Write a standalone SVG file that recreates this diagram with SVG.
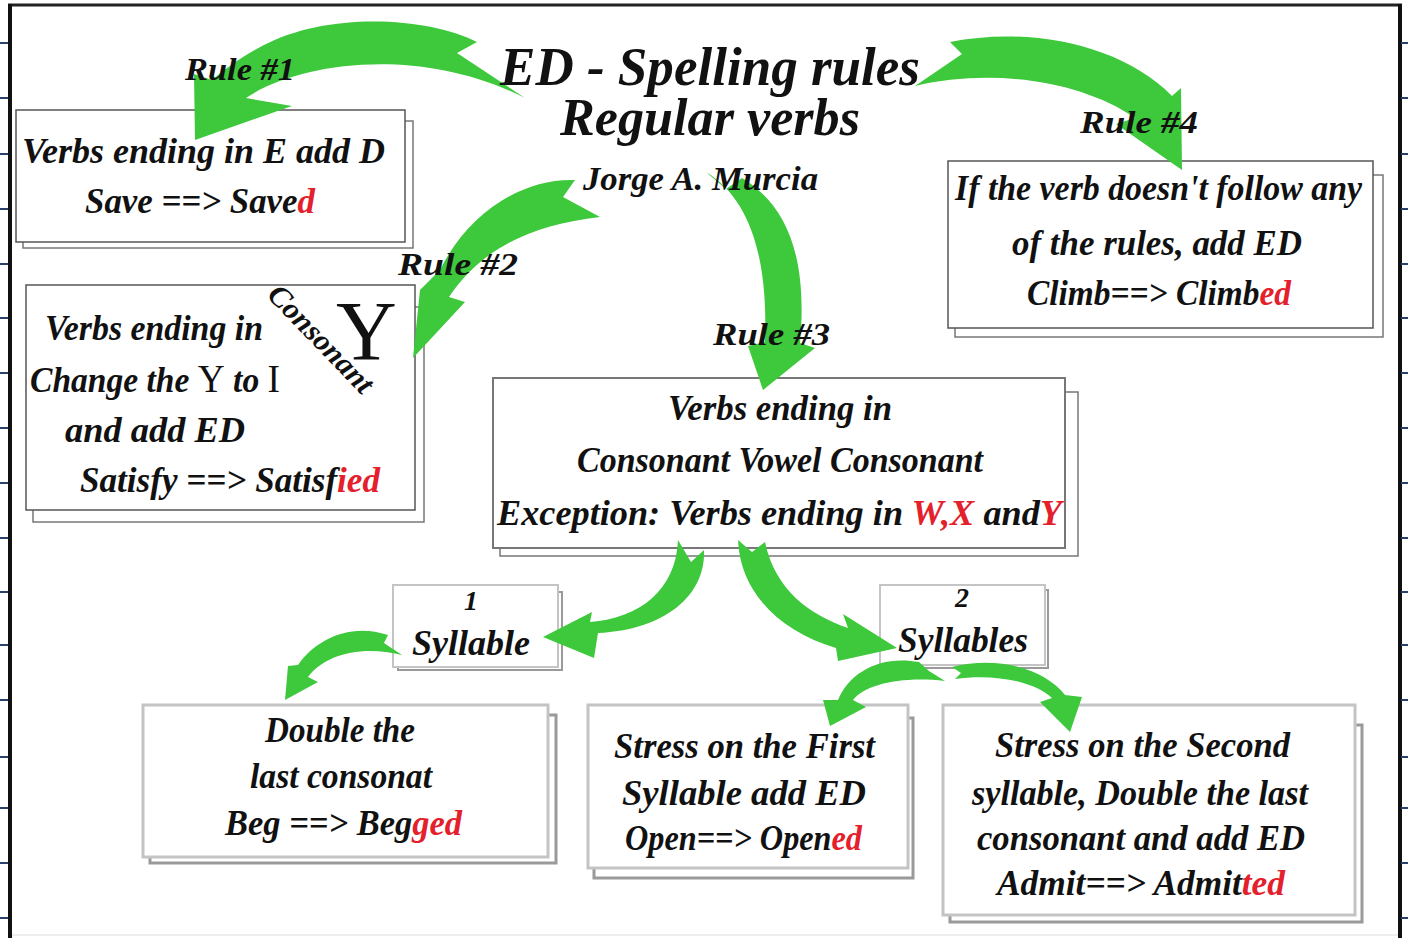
<svg xmlns="http://www.w3.org/2000/svg" width="1408" height="938" viewBox="0 0 1408 938">
<style>
.t{font-family:"Liberation Serif",serif;font-style:italic;font-weight:bold;fill:#111;font-size:36px}
.lbl{font-size:32px}
.r{fill:#e3202b}
.up{font-style:normal;font-weight:normal}
.bf{fill:#fff;stroke:#555;stroke-width:1.5}
.bs{fill:#fff;stroke:#777;stroke-width:1.5}
.lf{fill:#fff;stroke:#c4c4c4;stroke-width:3}
.ls{fill:#fff;stroke:#9a9a9a;stroke-width:3}
.arr{fill:#3ec83c;stroke:none}
.tick{stroke:#2a3f6a;stroke-width:2}
</style>
<defs>
<path id="tk" d="M0,0 H8" class="tick"/>
</defs>
<rect width="1408" height="938" fill="#fff"/>
<g id="frame">
<line x1="8" y1="5" x2="1402" y2="5" stroke="#222" stroke-width="3"/>
<line x1="10" y1="4" x2="10" y2="938" stroke="#111" stroke-width="4"/>
<line x1="1400" y1="4" x2="1400" y2="938" stroke="#111" stroke-width="4"/>
<line x1="12" y1="935" x2="1398" y2="935" stroke="#ddd" stroke-width="1"/>
<g>
<use href="#tk" x="0" y="43"/><use href="#tk" x="0" y="98"/><use href="#tk" x="0" y="154"/><use href="#tk" x="0" y="209"/><use href="#tk" x="0" y="264"/><use href="#tk" x="0" y="318"/><use href="#tk" x="0" y="373"/><use href="#tk" x="0" y="428"/><use href="#tk" x="0" y="483"/><use href="#tk" x="0" y="538"/><use href="#tk" x="0" y="592"/><use href="#tk" x="0" y="645"/><use href="#tk" x="0" y="700"/><use href="#tk" x="0" y="757"/><use href="#tk" x="0" y="808"/><use href="#tk" x="0" y="863"/><use href="#tk" x="0" y="918"/>
<use href="#tk" x="1401" y="43"/><use href="#tk" x="1401" y="98"/><use href="#tk" x="1401" y="154"/><use href="#tk" x="1401" y="209"/><use href="#tk" x="1401" y="264"/><use href="#tk" x="1401" y="318"/><use href="#tk" x="1401" y="373"/><use href="#tk" x="1401" y="428"/><use href="#tk" x="1401" y="483"/><use href="#tk" x="1401" y="538"/><use href="#tk" x="1401" y="592"/><use href="#tk" x="1401" y="645"/><use href="#tk" x="1401" y="700"/><use href="#tk" x="1401" y="757"/><use href="#tk" x="1401" y="808"/><use href="#tk" x="1401" y="863"/><use href="#tk" x="1401" y="918"/>
</g>
</g>

<g id="rule1-box">
<rect class="bs" x="23" y="121" width="390" height="127"/>
<rect class="bf" x="16" y="110" width="389" height="132"/>
<text class="t" x="22" y="163" textLength="363" lengthAdjust="spacingAndGlyphs">Verbs ending in E add D</text>
<text class="t" x="85" y="213" textLength="230" lengthAdjust="spacingAndGlyphs">Save ==&gt; Save<tspan class="r">d</tspan></text>
</g>

<g id="rule2-box">
<rect class="bs" x="33" y="307" width="391" height="215"/>
<rect class="bf" x="26" y="285" width="389" height="225"/>
<text class="t" x="45" y="340" textLength="218" lengthAdjust="spacingAndGlyphs">Verbs ending in</text>
<text class="t" x="30" y="392" textLength="250" lengthAdjust="spacingAndGlyphs">Change the <tspan class="up" style="font-size:40px">Y</tspan> to <tspan class="up" style="font-size:40px">I</tspan></text>
<text class="t" x="65" y="442" textLength="180" lengthAdjust="spacingAndGlyphs">and add ED</text>
<text class="t" x="80" y="492" textLength="300" lengthAdjust="spacingAndGlyphs">Satisfy ==&gt; Satisf<tspan class="r">ied</tspan></text>
<text class="t" style="font-size:30px" transform="translate(266,296) rotate(46)" textLength="138" lengthAdjust="spacingAndGlyphs">Consonant</text>
<text class="t up" x="336" y="360" style="font-size:84px">Y</text>
</g>

<g id="rule4-box">
<rect class="bs" x="955" y="175" width="428" height="162"/>
<rect class="bf" x="948" y="161" width="425" height="167"/>
<text class="t" x="955" y="200" textLength="407" lengthAdjust="spacingAndGlyphs">If the verb doesn't follow any</text>
<text class="t" x="1012" y="255" textLength="290" lengthAdjust="spacingAndGlyphs">of the rules, add ED</text>
<text class="t" x="1027" y="305" textLength="264" lengthAdjust="spacingAndGlyphs">Climb==&gt; Climb<tspan class="r">ed</tspan></text>
</g>

<g id="rule3-box">
<rect class="bs" x="500" y="392" width="578" height="164"/>
<rect class="bf" x="493" y="378" width="572" height="170" style="stroke:#777;stroke-width:2"/>
<text class="t" x="668" y="420" textLength="224" lengthAdjust="spacingAndGlyphs">Verbs ending in</text>
<text class="t" x="577" y="472" textLength="406" lengthAdjust="spacingAndGlyphs">Consonant Vowel Consonant</text>
<text class="t" x="497" y="525" textLength="565" lengthAdjust="spacingAndGlyphs">Exception: Verbs ending in <tspan class="r">W,X</tspan> and<tspan class="r">Y</tspan></text>
</g>

<g id="one-syllable">
<rect class="ls" x="398" y="592" width="164" height="78" style="stroke-width:2"/>
<rect class="lf" x="393" y="585" width="165" height="82" style="stroke-width:2"/>
<text class="t" x="471" y="610" style="font-size:28px" text-anchor="middle">1</text>
<text class="t" x="412" y="655" textLength="118" lengthAdjust="spacingAndGlyphs">Syllable</text>
</g>

<g id="two-syllables">
<rect class="ls" x="885" y="590" width="163" height="78" style="stroke-width:2"/>
<rect class="lf" x="880" y="585" width="165" height="80" style="stroke-width:2"/>
<text class="t" x="962" y="607" style="font-size:28px" text-anchor="middle">2</text>
<text class="t" x="898" y="652" textLength="130" lengthAdjust="spacingAndGlyphs">Syllables</text>
</g>

<g id="double-box">
<rect class="ls" x="150" y="715" width="406" height="148"/>
<rect class="lf" x="143" y="705" width="405" height="152"/>
<text class="t" x="265" y="742" textLength="150" lengthAdjust="spacingAndGlyphs">Double the</text>
<text class="t" x="250" y="788" textLength="182" lengthAdjust="spacingAndGlyphs">last consonat</text>
<text class="t" x="225" y="835" textLength="237" lengthAdjust="spacingAndGlyphs">Beg ==&gt; Beg<tspan class="r">ged</tspan></text>
</g>

<g id="first-box">
<rect class="ls" x="594" y="718" width="319" height="160"/>
<rect class="lf" x="588" y="705" width="320" height="163"/>
<text class="t" x="614" y="758" textLength="261" lengthAdjust="spacingAndGlyphs">Stress on the First</text>
<text class="t" x="622" y="805" textLength="244" lengthAdjust="spacingAndGlyphs">Syllable add ED</text>
<text class="t" x="625" y="850" textLength="237" lengthAdjust="spacingAndGlyphs">Open==&gt; Open<tspan class="r">ed</tspan></text>
</g>

<g id="second-box">
<rect class="ls" x="950" y="725" width="412" height="197"/>
<rect class="lf" x="943" y="705" width="412" height="210"/>
<text class="t" x="995" y="757" textLength="295" lengthAdjust="spacingAndGlyphs">Stress on the Second</text>
<text class="t" x="972" y="805" textLength="336" lengthAdjust="spacingAndGlyphs">syllable, Double the last</text>
<text class="t" x="977" y="850" textLength="328" lengthAdjust="spacingAndGlyphs">consonant and add ED</text>
<text class="t" x="997" y="895" textLength="288" lengthAdjust="spacingAndGlyphs">Admit==&gt; Admit<tspan class="r">ted</tspan></text>
</g>

<g id="connectors">
<path class="arr" d="M477,42 C430,18 330,10 262,46 C240,58 224,70 212,80 L194,74 L195,140 L292,106 L246,98 C300,62 420,45 525,98 L457,53 Z"/>
<path class="arr" d="M950,42 C1030,26 1122,45 1172,96 L1181,88 L1182,170 L1116,124 L1135,118 C1080,80 990,68 915,86 L962,54 Z"/>
<path class="arr" d="M575,180 C525,178 470,210 440,270 L420,290 L413,358 L465,302 L449,297 C480,250 530,225 600,217 L563,197 Z"/>
<path class="arr" d="M706,172 C752,200 768,262 765,342 L748,346 L763,390 L815,348 L800,343 C808,255 786,205 742,178 L726,189 Z"/>
<path class="arr" d="M678,540 L691,562 L704,550 C706,596 664,630 598,633 L594,658 L543,637 L592,612 L590,622 C640,618 676,590 678,540 Z"/>
<path class="arr" d="M738,540 L752,552 L765,542 C775,590 810,615 848,628 L843,614 L897,648 L838,661 L836,648 C780,632 740,592 738,540 Z"/>
<path class="arr" d="M388,635 C350,622 315,640 298,665 L288,666 L285,700 L318,682 L308,677 C325,655 360,645 402,655 L384,643 Z"/>
<path class="arr" d="M919,662 C880,655 850,672 838,700 L823,700 L830,726 L866,707 L853,700 C865,685 900,676 945,681 L929,671 Z"/>
<path class="arr" d="M952,667 C1000,655 1045,670 1065,695 L1082,697 L1070,732 L1040,702 L1052,698 C1035,682 995,673 955,679 L961,673 Z"/>
</g>

<g id="title">
<text class="t" x="500" y="85" style="font-size:54px" textLength="420" lengthAdjust="spacingAndGlyphs">ED - Spelling rules</text>
<text class="t" x="560" y="135" style="font-size:52px" textLength="300" lengthAdjust="spacingAndGlyphs">Regular verbs</text>
<text class="t" x="583" y="190" style="font-size:34px" textLength="235" lengthAdjust="spacingAndGlyphs">Jorge A. Murcia</text>
</g>
<g id="rule1-label"><text class="t lbl" x="185" y="80" textLength="110" lengthAdjust="spacingAndGlyphs">Rule #1</text></g>
<g id="rule2-label"><text class="t lbl" x="398" y="275" textLength="120" lengthAdjust="spacingAndGlyphs">Rule #2</text></g>
<g id="rule3-label"><text class="t lbl" x="713" y="345" textLength="117" lengthAdjust="spacingAndGlyphs">Rule #3</text></g>
<g id="rule4-label"><text class="t lbl" x="1080" y="133" textLength="118" lengthAdjust="spacingAndGlyphs">Rule #4</text></g>
</svg>
